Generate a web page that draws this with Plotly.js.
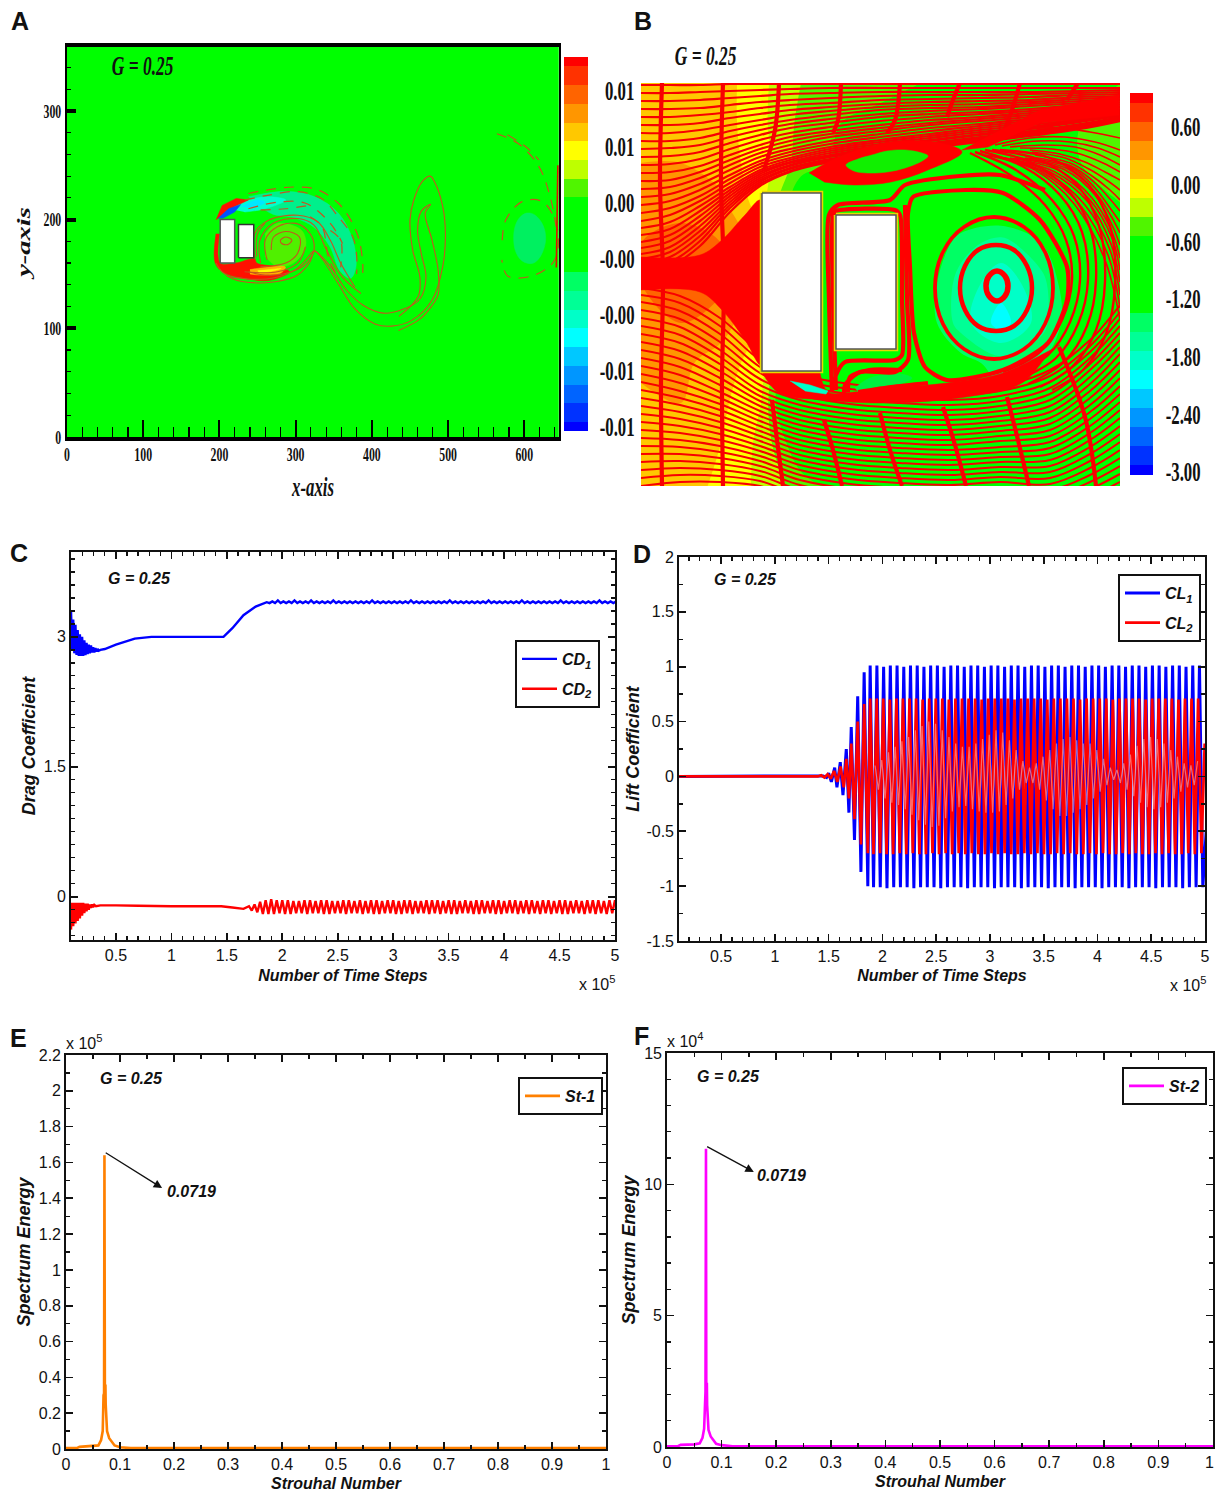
<!DOCTYPE html>
<html><head><meta charset="utf-8">
<script src="https://cdn.plot.ly/plotly-3.0.1.min.js"></script>
<style>html,body{margin:0;padding:0;background:#fff}</style></head>
<body><div id="chart" style="width:1215px;height:1493px"></div>
<script>
// ---------- shared colour levels (bottom to top of the contour bars)
const levelColors=['#0000ff','#0032ff','#0064ff','#0096ff','#00c8ff','#00ffff','#00ffc8','#00ff96','#00ff64','#00ff00','#00ff00','#00ff00','#00ff00','#50f500','#beff00','#ffff00','#ffc800','#ff9600','#ff6400','#ff3200','#ff0000'];
const levelIndex=[0,1,2,3,4,5,6,7,8,9,10,11,12,13,14,15,16,17,18,19,20];
const barALabels=['-0.01','-0.01','-0.00','-0.00','0.00','0.01','0.01'];
const barALabelPos=[0.2,3.2,6.2,9.2,12.2,15.2,18.2];
const barBLabels=['-3.00','-2.40','-1.80','-1.20','-0.60','0.00','0.60'];
const barBLabelPos=[0.15,3.15,6.2,9.2,12.2,15.2,18.2];

// ---------- panel A: vorticity regions and contour lines (x-axis, y-axis units)
const aCyl1X=[201,220,220,201,201], aCyl1Y=[160,160,200,200,160];
const aCyl2X=[225,245,245,225,225], aCyl2Y=[165,165,195.6,195.6,165];
const aTealX=[238,287,325,356,375,379,372,358,345,324,297,270,254], aTealY=[221,226,221,206,181,156,146,153,175,193,202,205,212];
const aAquaX=[212,238,265,287,260,233], aAquaY=[210,218,221,218,210,207];
const aCyanX=[228,249,260,244], aCyanY=[212,218,216,210];
const aRedTopX=[195.5,203.5,222,238,220,204], aRedTopY=[199.6,213,219.5,218,212,204];
const aBlueX=[198,212,228,220,204], aBlueY=[201,210,214,207,201];
const aRedLowX=[195.5,194.4,206,233,265,292,276,249,246,221,201,200], aRedLowY=[187,160,151,146,144,152,156.5,160,164,160,160,187];
const aOrangeX=[240,260,286.5,281,254,240], aOrangeY=[154,156,156.5,151,149,150];
const aYellowX=[250,265,281,265,252], aYellowY=[153,154,155,152,151];
const aCoreX=[260,276,308,313,297,276,260], aCoreY=[187,196.5,190,175,160,157,166];
const aEddyX=[628,626,620,612,603,594,588,586,588,594,603,612,620,626,628], aEddyY=[183,192,200,205,206,202,194,183,172,164,160,160,165,174,183];
const aSolidX=[
 [195.5,203.5,219.6,243.7,275.8,302.6,318.7,325,334.8,356,377.6,404,426,452.6,479,493,496.5,493,482,476.7,466,455,450,453.6,463,460.6,435.5],
 [210,243,275,300,316,324,343,367,389,415,439,463,471,465,460,465,477,470,479,487,487,478,462,435],
 [262.5,260,276,300.5,319,324,311,287,260,238],
 [254,253,270,302.6,324,340,361.5,385.6],
 [247,246,265,302.6,329,345.5,359,377.6],
 [280,287,295,289.6,281.6,280],
 [233,276,302.6,313],
 [254,287,302.6,305,287,271,268],
 [249,250,260]];
const aSolidY=[
 [160,152,145,142,143,149,161,171,164,141,118,104,102,107.5,126,157,187,212,235,240,235,218,199.6,172,147,129,111],
 [148,145,147,154,165,171,159,135,121,114,117,127,147,168,190,208,214,206,181,153,131,120,108,98],
 [163,181,193.4,196.5,187,172,158,150.5,149,152],
 [160,181,196.5,201,195,173,147,132],
 [164,187,199.6,204,198,181,160,138],
 [181,184,181,177,178,181],
 [152,152,160,175],
 [156.5,160,169,184,189,184,172],
 [166,187,196.5]];
const aDashX=[
 [238,259.6,297,329,356,372,383,388,388],[233,265,302.6,335,356,375,380,380],[238,276,313,345.5,361.5],[254,287,317],
 [345.5,359,359],[319,335,343,356],[564,592,619,635,643],[578,602,619],[571,576,597,624,643,640,613.5,578.5,570.5]];
const aDashY=[
 [224,227,230,227.5,215,200,182,160,151],[218,222.6,225.7,219,202.6,184,167,150],[210,216,215,196.5,178],[209,210,213],
 [190,181,156],[202.6,193,165,147],[279,270,249,218,187],[278,267,255],[181,200,216.5,216.5,193.4,163,149,148,163]];
const aEdgeX=[644,643,642], aEdgeY=[250,200,156];

// ---------- panel B: pressure grid, streamlines (flow-field units, y grows downward)
const pGridX=[641,681,721,761,801,841,881,921,961,1001,1041,1081,1121];
const pGridY=[83,123,163,203,243,283,323,363,403,443,486];
const pGrid=[
[.25,.25,.2,-.05,-.3,-.4,-.45,-.5,-.5,-.5,-.5,-.5,-.5],
[.25,.3,.2,-.05,-.35,-.5,-.55,-.55,-.55,-.55,-.55,-.5,-.45],
[.3,.3,.2,0,-.4,-.55,-.6,-.7,-.7,-.6,-.55,-.5,-.45],
[.4,.45,.35,0,-.7,-.7,-.8,-.9,-1,-.9,-.7,-.6,-.5],
[.5,.55,.5,.2,-.6,-.7,-.8,-1,-1.4,-1.6,-1.3,-.8,-.6],
[.5,.6,.55,.2,-.6,-.7,-.8,-1.1,-1.6,-1.8,-1.6,-.9,-.6],
[.5,.5,.4,.1,-.6,-.7,-.85,-1.1,-1.6,-2,-1.6,-1,-.65],
[.35,.35,.2,0,-1,-.9,-.8,-.9,-1.2,-1.4,-1.3,-1,-.75],
[.25,.3,.15,-.1,-1.2,-1.3,-1.3,-1.3,-1.2,-1.2,-1,-.9,-.8],
[.25,.25,.1,-.15,-.7,-1,-1,-1,-1,-1,-.9,-.8,-.75],
[.2,.2,.05,-.15,-.4,-.6,-.7,-.8,-.8,-.75,-.7,-.65,-.6]];
const upperStations=[641,670,700,730,760,790,830,880,930,980,1030,1080,1120];
const upperLines=[
[85,85,85,84,84,84,84,84,84,84,84,84,84],[93,93,92,91,90,89,88,88,88,88,88,88,88],
[101,101,100,98,96,94,93,92,92,92,92,91,90],[109,109,108,105,102,100,98,96,95,95,94,93,92],
[117,117,115,112,108,105,103,100,99,98,97,95,94],[125,125,123,118,114,110,107,104,102,101,100,97,96],
[133,133,130,125,120,115,111,107,105,104,102,99,97],[141,141,138,131,125,120,115,110,108,107,104,101,99],
[149,148,145,137,130,124,119,114,111,109,106,103,100],[157,156,152,143,135,128,123,117,114,112,109,105,102],
[165,164,159,149,140,133,127,121,117,114,111,107,104],[173,172,166,155,145,137,131,125,120,117,113,109,106],
[181,180,172,160,149,141,134,128,123,119,115,111,107],[189,187,178,165,153,145,137,131,125,121,117,112,109],
[197,194,184,170,157,149,141,134,128,124,119,114,110],[205,201,190,175,161,152,144,137,131,126,121,116,111],
[213,208,196,179,164,155,147,140,134,128,123,117,112],[221,215,201,183,167,158,149,142,136,130,125,119,113],
[228,222,206,187,170,160,151,144,138,132,127,120,114],[235,229,211,190,172,162,153,146,140,134,128,121,115],
[242,235,216,193,174,163,155,147,141,135,129,122,116],[248,241,221,196,176,165,156,149,143,137,131,124,117],
[254,247,226,199,178,166,157,150,144,138,132,125,118],[259,252,231,202,180,168,159,151,145,139,133,126,118],
[264,257,236,205,182,169,160,152,146,140,134,127,119],[268,262,241,208,184,171,161,153,147,141,135,128,120],
[272,266,246,212,186,172,162,154,148,142,136,129,121]];
const lowerStations=[641,680,720,760,800,850,900,950,1000,1050,1090,1120];
const lowerLines=[
[288,296,318,352,374,384,388,390,386,370,340,305],[295,303,326,360,380,389,393,395,391,376,346,312],
[302,311,334,367,385,394,398,400,396,382,352,319],[310,319,342,373,390,399,403,405,401,388,358,326],
[318,327,350,379,395,404,408,410,406,394,364,333],[326,335,357,385,400,409,413,415,411,400,370,340],
[334,343,364,391,405,414,418,420,416,406,377,347],[342,351,371,396,410,419,423,425,421,412,384,354],
[350,359,378,401,415,424,428,430,426,418,391,362],[358,367,385,406,420,429,433,435,431,424,398,370],
[366,375,392,411,425,434,438,440,436,430,405,378],[374,383,398,416,430,439,443,445,441,436,412,386],
[382,391,404,421,435,444,448,450,447,442,419,394],[390,398,410,426,440,449,453,455,452,448,426,402],
[398,405,416,431,445,454,458,460,457,454,433,410],[406,412,422,436,450,459,463,465,462,460,440,418],
[414,419,428,441,455,464,468,470,467,466,447,426],[422,426,434,446,460,469,473,475,472,472,454,434],
[430,433,440,451,465,474,478,480,477,478,461,442],[438,440,446,456,470,479,483,485,482,484,468,450],
[446,447,452,461,475,484,488,490,487,490,475,458],[454,454,458,466,480,489,493,495,492,496,482,466],
[462,461,464,471,485,494,498,500,497,502,489,474],[470,468,470,476,490,499,503,505,503,508,496,482],
[478,475,476,481,495,504,508,510,509,514,503,490],[486,482,482,486,500,509,513,515,515,520,510,498]];
const hugX=[[1003,1040,1062,1072,1066,1045,1010,970],[1010,1048,1070,1080,1074,1052,1016,975],[1018,1056,1078,1088,1082,1060,1022,980],[1028,1064,1087,1096,1090,1068,1030,985],[1040,1073,1096,1105,1099,1078,1040,992],[1052,1083,1106,1115,1110,1088,1050,1000]];
const hugY=[[372,352,320,280,240,205,175,153],[376,355,322,280,236,200,170,152],[380,358,324,280,232,195,166,151],[384,362,326,280,228,190,162,150],[387,366,330,282,226,186,160,150],[390,370,334,285,226,184,158,150]];
const fanX=[[1120,1105,1075,1035,985],[1120,1108,1080,1040,990],[1120,1110,1085,1045,995],[1120,1111,1088,1050,1000],[1120,1112,1090,1055,1005],[1120,1112,1092,1060,1010],[1120,1112,1095,1065,1015],[1120,1111,1095,1068,1020],[1120,1110,1095,1072,1025],[1120,1110,1094,1071,1030],[1120,1110,1092,1070,1035],[1120,1108,1089,1065,1032],[1120,1105,1085,1060,1030],[1120,1103,1080,1052,1020],[1120,1100,1075,1045,1010],[1120,1098,1070,1038,1002],[1120,1095,1065,1030,995],[1120,1090,1060,1025,985]];
const fanY=[[320,260,205,170,155],[308,255,205,171,155],[295,250,205,172,156],[282,244,202,172,157],[270,238,200,172,158],[258,232,198,171,158],[245,225,195,170,158],[233,216,192,169,158],[222,208,188,168,158],[211,199,182,166,157],[200,190,176,163,155],[190,181,169,158,152],[180,172,162,154,150],[172,163,154,149,148],[165,155,147,145,147],[157,148,142,141,146],[150,142,137,138,145],[138,132,128,130,145]];
const crossX=[[662,660,663,661,662],[723,721,724,722,723],[779,775,764],[841,838,833],[900,895,887],[960,953,947],[1020,1012,1003],[1078,1067],[772,777,783],[824,833,842],[880,890,902],[943,955,966],[1007,1018,1029],[1059,1085,1096]];
const crossY=[[83,180,280,380,486],[83,180,280,380,486],[83,130,170],[83,120,133],[83,120,133],[83,100,117],[83,110,133],[83,100],[400,440,486],[420,450,486],[413,450,486],[407,445,486],[397,440,486],[347,417,486]];
const bCoreX=[641,700,722,745,761,761,745,722,700,641], bCoreY=[257,255,240,215,200,365,340,310,292,290];
const bLidX=[809,839,891,940,962,928,891,854,824], bLidY=[173,157,142,143,152,170,182,185,182];
const bJetX=[1119,1040,962,988,1040,1119], bJetY=[95,110,150,147,123,115];
const bFloorX=[762,779,824,891,966,1022,1052,1060,1003,947,891,854,828,820], bFloorY=[372,393,400,403,397,383,350,345,373,383,388,392,392,373];
const bIsleX=[846,858,872,887,905,922,928,922,905,887,868,854,846], bIsleY=[165,159,155,151,150,153,156,161,168,172,173,171,165];
const bTealX=[790,810,828,826,805], bTealY=[381,385,391,394,391];
const bPatchX=[855,870,900,912,900,870,858], bPatchY=[388,378,374,378,384,388,392];
const bBandX=[
 [832,829,829,838,890,905,960,1000,1045],[836,833,833,836,895,900,902,902,895,845,836,833],[905,907,908,895,860,845,845,870],
 [848,850,869,902],[858,891,928],[913,966,1003,1040,1067,1067,1048,1003,947,925,914,910,908,913]];
const bBandY=[
 [392,300,215,205,200,185,176,175,190],[390,300,215,211,210,215,300,355,360,362,375,390],[205,300,360,372,372,385,395,395],
 [392,377,370,370],[392,387,383],[197,190,193,220,267,300,343,370,380,367,333,267,213,197]];
const ring1X=[1008,1005,997,989,986,989,997,1005,1008], ring1Y=[286,276,271,276,286,296,301,296,286];
const ring2X=[1032,1027,1014,996,978,965,960,965,978,996,1014,1027,1032], ring2Y=[288,266,250,245,250,266,288,310,326,331,326,310,288];
const ring3X=[1053,1045,1024,994,964,943,935,943,964,994,1024,1045,1053], ring3Y=[288,252,227,217,227,252,288,324,349,359,349,324,288];
const bBody1X=[762,821,821,762,762], bBody1Y=[193,193,371,371,193];
const bBody2X=[836,896,896,836,836], bBody2Y=[215,215,349,349,215];

// ---------- panel C: drag coefficient (x in units of 1e5 time steps)
const cd1StartX=[.095,.105,.115,.125,.135,.145,.155,.165,.175,.185,.195,.205,.215,.225,.235,.245,.255,.265,.275,.285,.295,.305,.315,.325,.335,.345,.36,.4,.5,.67,.82,1.47,1.55,1.65,1.76,1.86];
const cd1StartY=[3.3,2.85,3.2,2.81,3.14,2.79,3.08,2.78,3.03,2.78,3,2.78,2.96,2.79,2.93,2.8,2.91,2.81,2.9,2.82,2.88,2.82,2.87,2.83,2.86,2.84,2.85,2.86,2.91,2.98,3,3,3.1,3.25,3.35,3.4];
const cd1Ripple=[3.39,3.41,3.39,3.42,3.39,3.41,3.39,3.41,3.39,3.42,3.39,3.41,3.39,3.41,3.39,3.42,3.39,3.41,3.39,3.41,3.39,3.41,3.39,3.42,3.39,3.41,3.39,3.41,3.39,3.41,3.39,3.41,3.39,3.41,3.39,3.41,3.39,3.42,3.39,3.41,3.39,3.41,3.39,3.41,3.39,3.41,3.39,3.41,3.39,3.41,3.39,3.42,3.39,3.41,3.39,3.41,3.39,3.41,3.39,3.41,3.39,3.41,3.39,3.41,3.39,3.42,3.39,3.41,3.39,3.41,3.39,3.41,3.39,3.41,3.39,3.41,3.39,3.41,3.39,3.42,3.39,3.41,3.39,3.41,3.39,3.41,3.39,3.41,3.39,3.41,3.39,3.42,3.39,3.41,3.39,3.41,3.39,3.41,3.39,3.41,3.39,3.41,3.39,3.41,3.39,3.42,3.39,3.41,3.39,3.41,3.39,3.41,3.39,3.41,3.39,3.41,3.39,3.41,3.39,3.42,3.39,3.41,3.39,3.41,3.39,3.41];
const cd2StartX=[.095,.105,.115,.125,.135,.145,.155,.165,.175,.185,.195,.205,.215,.225,.235,.245,.255,.265,.275,.285,.295,.305,.32,.36,.5,.6,.7,1,1.45,1.55,1.65,1.7,1.725,1.75,1.775,1.8,1.825];
const cd2StartY=[-.38,-.07,-.34,-.07,-.31,-.07,-.28,-.07,-.25,-.07,-.22,-.07,-.19,-.08,-.17,-.08,-.15,-.09,-.13,-.09,-.12,-.095,-.11,-.1,-.1,-.1,-.105,-.11,-.11,-.125,-.14,-.11,-.16,-.09,-.18,-.06,-.2];
const cd2Ripple=[-.04,-.2,-.03,-.2,-.04,-.19,-.04,-.2,-.04,-.2,-.05,-.19,-.05,-.19,-.04,-.2,-.04,-.19,-.05,-.19,-.04,-.2,-.04,-.2,-.05,-.19,-.05,-.19,-.04,-.2,-.04,-.19,-.05,-.19,-.04,-.2,-.05,-.19,-.04,-.2,-.04,-.2,-.05,-.19,-.04,-.19,-.04,-.2,-.05,-.2,-.04,-.19,-.04,-.2,-.05,-.19,-.05,-.19,-.04,-.2,-.04,-.19,-.04,-.2,-.05,-.19,-.04,-.2,-.04,-.2,-.05,-.19,-.04,-.19,-.05,-.2,-.04,-.2,-.04,-.19,-.05,-.19,-.04,-.2,-.04,-.2,-.05,-.19,-.04,-.19,-.04,-.2,-.05,-.19,-.04,-.2,-.04,-.19,-.05,-.2,-.04,-.19,-.04,-.2,-.05,-.19,-.04,-.2,-.04,-.2,-.05,-.19,-.04,-.19,-.05,-.2,-.04,-.19,-.04,-.2,-.04,-.19,-.05,-.2,-.04,-.19,-.04,-.2];

// ---------- panel D: lift coefficient
const cl1StartX=[.1,1.42,1.45,1.48,1.5,1.525,1.556,1.577,1.608,1.633,1.664,1.688,1.71,1.74,1.77,1.8,1.83,1.864,1.886];
const cl1StartY=[0,0,.005,-.01,.03,-.05,.08,-.1,.13,-.17,.25,-.33,.45,-.58,.73,-.87,.95,-1,1.01];
const cl1Peaks=[-1.01,1.01,-1.01,1,-1.02,1.01,-1.01,1.01,-1.01,1,-1.01,1.01,-1.02,1.01,-1.01,1,-1.01,1.01,-1.01,1.01,-1.02,1,-1.01,1.01,-1.01,1.01,-1.01,1,-1.02,1.01,-1.01,1.01,-1.01,1,-1.01,1.01,-1.02,1.01,-1.01,1,-1.01,1.01,-1.01,1.01,-1.02,1,-1.01,1.01,-1.01,1.01,-1.01,1,-1.02,1.01,-1.01,1.01,-1.01,1,-1.01,1.01,-1.02,1.01,-1.01,1,-1.01,1.01,-1.01,1.01,-1.02,1,-1.01,1.01,-1.01,1.01,-1.01,1,-1.02,1.01,-1.01,1.01,-1.01,1,-1.01,1.01,-1.02,1.01,-1.01,1,-1.01,1.01,-1.01,1.01,-1.02,1,-1.01,1.01,-1.01,1.01,-1.01,-.5];
const cl2StartX=[.1,1.4,1.43,1.46,1.49,1.52,1.55,1.58,1.61,1.64,1.664,1.688,1.71,1.74,1.77,1.8,1.83,1.864,1.886];
const cl2StartY=[0,0,.01,-.01,.02,-.02,.05,-.05,.09,-.1,.16,-.2,.3,-.39,.5,-.62,.66,-.7,.71];
const cl2Peaks=[-.71,.71,-.7,.71,-.71,.7,-.71,.71,-.7,.71,-.71,.71,-.7,.71,-.71,.7,-.71,.71,-.7,.71,-.71,.71,-.7,.7,-.71,.71,-.7,.71,-.71,.71,-.7,.71,-.71,.7,-.71,.71,-.7,.71,-.71,.71,-.7,.71,-.71,.7,-.71,.71,-.7,.71,-.71,.71,-.7,.71,-.71,.7,-.71,.71,-.7,.71,-.71,.71,-.7,.71,-.71,.7,-.71,.71,-.7,.71,-.71,.71,-.7,.71,-.71,.7,-.71,.71,-.7,.71,-.71,.71,-.7,.71,-.71,.7,-.71,.71,-.7,.71,-.71,.71,-.7,.71,-.71,.7,-.71,.71,-.7,.71,-.71,.71,-.7,.3];
const cl2Inner=[.1,-.12,.15,-.2,.22,-.24,.27,-.26,.32,-.3,.36,-.35,.42,-.4,.46,-.44,.5,-.46,.48,-.45,.42,-.38,.36,-.32,.3,-.28,.27,-.27,.27,-.3,.3,-.32,.34,-.33,.38,-.33,.42,-.32,.4,-.26,.33,-.2,.24,-.12,.14,-.06,.08,-.06,.12,-.12,.18,-.22,.24,-.3,.3,-.36,.34,-.36,.36,-.33,.33,-.3,.3,-.26,.3,-.2,.24,-.14,.16,-.08,.08,-.03,.06,-.06,.12,-.12,.2,-.18,.28,-.24,.34,-.28,.36,-.3,.34,-.28,.3,-.24,.24,-.2,.18,-.14,.12,-.1,.1,-.08,.14];

// ---------- panels E and F: spectra
const st1X=[0,.02,.025,.05,.06,.065,.068,.0695,.0705,.0712,.072,.073,.0735,.0745,.076,.08,.085,.09,.1,.12,.2,.5,1];
const st1Y=[.005,.005,.012,.015,.02,.05,.1,.3,.31,1.64,.31,.36,.25,.15,.1,.06,.04,.02,.01,.005,.005,.005,.005];
const st2X=[0,.02,.025,.05,.06,.065,.068,.0695,.0705,.0714,.072,.073,.0735,.0745,.076,.08,.085,.09,.1,.12,.2,.5,1];
const st2Y=[.03,.03,.08,.1,.14,.35,.7,2.1,2.1,11.35,2.1,2.45,1.6,1,.65,.4,.25,.12,.07,.03,.03,.03,.03];

// ---------- layout helpers
const SERIF='Liberation Serif', SANS='Liberation Sans';
const dx=(a,b)=>[a/1215,b/1215], dy=(a,b)=>[1-b/1493,1-a/1493];
const px=v=>v/1215, py=v=>1-v/1493;
const stepped=[];levelColors.forEach((c,i)=>{stepped.push([i/21,c]);stepped.push([(i+1)/21,c]);});
const joinRows=(xs,rows)=>{const X=[],Y=[];rows.forEach((r,k)=>{r.forEach((v,i)=>{X.push(Array.isArray(xs[0])?xs[k][i]:xs[i]);Y.push(v);});X.push(null);Y.push(null);});return [X,Y];};
const sweep=(start,step,vals)=>vals.map((_,i)=>start+step*(i+1));
const fill=(x,y,color,xa,ya,extra)=>Object.assign({type:'scatter',mode:'lines',x,y,fill:'toself',fillcolor:color,line:{color:color,width:0.5},xaxis:xa,yaxis:ya,showlegend:false,hoverinfo:'skip'},extra||{});
const stroke=(x,y,color,w,xa,ya,extra)=>Object.assign({type:'scatter',mode:'lines',x,y,line:{color,width:w},xaxis:xa,yaxis:ya,showlegend:false,hoverinfo:'skip'},extra||{});
const splineLine=(color,w,dash)=>({color,width:w,shape:'spline',smoothing:1,dash:dash||'solid'});
const curve=(x,y,line,xa,ya)=>({type:'scatter',mode:'lines',x,y,line,xaxis:xa,yaxis:ya,showlegend:false,hoverinfo:'skip'});

const traces=[];
// --- Panel A
traces.push(fill([0,645,645,0,0],[0,0,360,360,0],'#00ff00','x','y'));
const sp=c=>({line:{color:c,width:.5,shape:'spline'}});
traces.push(fill(aEddyX,aEddyY,'#00f060','x','y',sp('#00f060')));
traces.push(fill(aTealX,aTealY,'#00f08c','x','y',sp('#00f08c')));
traces.push(fill(aAquaX,aAquaY,'#00ffd0','x','y',sp('#00ffd0')));
traces.push(fill(aCyanX,aCyanY,'#00e8ff','x','y',sp('#00e8ff')));
traces.push(fill(aRedTopX,aRedTopY,'#ff1000','x','y'));
traces.push(fill(aBlueX,aBlueY,'#0050ff','x','y'));
traces.push(fill(aCoreX,aCoreY,'#50f000','x','y',sp('#50f000')));
traces.push(fill(aRedLowX,aRedLowY,'#ff1000','x','y',sp('#ff1000')));
traces.push(fill(aOrangeX,aOrangeY,'#ffb000','x','y',sp('#ffb000')));
traces.push(fill(aYellowX,aYellowY,'#ffff00','x','y',sp('#ffff00')));
aSolidX.forEach((x,i)=>traces.push(curve(x,aSolidY[i],splineLine('#c4551e',1.1),'x','y')));
aDashX.forEach((x,i)=>traces.push(curve(x,aDashY[i],splineLine('#c4551e',1.2,'10px,8px'),'x','y')));
traces.push(stroke(aEdgeX,aEdgeY,'#e01000',1.6,'x','y'));
traces.push(fill(aCyl1X,aCyl1Y,'#ffffff','x','y',{line:{color:'#555',width:1.5}}));
traces.push(fill(aCyl2X,aCyl2Y,'#ffffff','x','y',{line:{color:'#333',width:1.5}}));
// --- Colour bars
traces.push({type:'heatmap',x:[0],y:levelIndex,z:levelIndex.map(v=>[v]),colorscale:stepped,zmin:-.5,zmax:20.5,showscale:false,xaxis:'x2',yaxis:'y2',hoverinfo:'skip'});
traces.push({type:'heatmap',x:[0],y:levelIndex,z:levelIndex.map(v=>[v]),colorscale:stepped,zmin:-.5,zmax:20.5,showscale:false,xaxis:'x4',yaxis:'y4',hoverinfo:'skip'});
// --- Panel B
traces.push({type:'contour',x:pGridX,y:pGridY,z:pGrid,colorscale:stepped,zmin:-3.1,zmax:1.1,autocontour:false,contours:{coloring:'fill',start:-3.1,end:1.1,size:.2,showlines:false},line:{width:0},showscale:false,xaxis:'x3',yaxis:'y3',hoverinfo:'skip'});
const [ux,uy]=joinRows(upperStations,upperLines);
traces.push(curve(ux,uy,splineLine('#f80000',2.2),'x3','y3'));
const [lx,ly]=joinRows(lowerStations,lowerLines);
traces.push(curve(lx,ly,splineLine('#f80000',2),'x3','y3'));
const [hx,hy]=joinRows(hugX,hugY);
traces.push(curve(hx,hy,splineLine('#f80000',2.4),'x3','y3'));
const [fx,fy]=joinRows(fanX,fanY);
traces.push(curve(fx,fy,splineLine('#f80000',1.6),'x3','y3'));
const [cx,cy]=joinRows(crossX,crossY);
traces.push(curve(cx,cy,splineLine('#f80000',4.2),'x3','y3'));
traces.push(fill(bCoreX,bCoreY,'#ff0000','x3','y3',sp('#ff0000')));
traces.push(fill(bJetX,bJetY,'#ff0000','x3','y3'));
traces.push(fill(bLidX,bLidY,'#ff0000','x3','y3',sp('#ff0000')));
traces.push(fill(bFloorX,bFloorY,'#ff0000','x3','y3',sp('#ff0000')));
traces.push(fill(bIsleX,bIsleY,'#10f000','x3','y3',sp('#10f000')));
traces.push(fill(bTealX,bTealY,'#00ffc8','x3','y3'));
traces.push(fill(bPatchX,bPatchY,'#00f040','x3','y3',sp('#00f040')));
bBandX.forEach((x,i)=>traces.push(curve(x,bBandY[i],{color:'#ff0000',width:4.2,shape:'spline',smoothing:.7},'x3','y3')));
traces.push(curve(ring1X,ring1Y,splineLine('#ff0000',5.5),'x3','y3'));
traces.push(curve(ring2X,ring2Y,splineLine('#ff0000',4.5),'x3','y3'));
traces.push(curve(ring3X,ring3Y,splineLine('#ff0000',3.8),'x3','y3'));
traces.push(stroke(bBody1X,bBody1Y,'#e8d800',4.5,'x3','y3'));
traces.push(stroke(bBody2X,bBody2Y,'#e8d800',4.5,'x3','y3'));
traces.push(fill(bBody1X,bBody1Y,'#ffffff','x3','y3',{line:{color:'#555',width:1.5}}));
traces.push(fill(bBody2X,bBody2Y,'#ffffff','x3','y3',{line:{color:'#555',width:1.5}}));
// --- Panel C
traces.push({type:'scatter',mode:'lines',name:'CD<sub>1</sub>',x:cd1StartX.concat(sweep(1.86,.025,cd1Ripple)),y:cd1StartY.concat(cd1Ripple),line:{color:'#0000ff',width:2.4},xaxis:'x5',yaxis:'y5',legend:'legend',legendgroup:'a',hoverinfo:'skip'});
traces.push({type:'scatter',mode:'lines',name:'CD<sub>2</sub>',x:cd2StartX.concat(sweep(1.825,.025,cd2Ripple)),y:cd2StartY.concat(cd2Ripple),line:{color:'#ff0000',width:2.4},xaxis:'x5',yaxis:'y5',legend:'legend',legendgroup:'b',hoverinfo:'skip'});
// --- Panel D
traces.push({type:'scatter',mode:'lines',name:'CL<sub>1</sub>',x:cl1StartX.concat(sweep(1.886,.03125,cl1Peaks)),y:cl1StartY.concat(cl1Peaks),line:{color:'#0000ff',width:3},xaxis:'x6',yaxis:'y6',legend:'legend2',legendgroup:'c',hoverinfo:'skip'});
traces.push({type:'scatter',mode:'lines',name:'CL<sub>2</sub>',x:cl2StartX.concat(sweep(1.886,.0305,cl2Peaks)),y:cl2StartY.concat(cl2Peaks),line:{color:'#ff0000',width:2.7},xaxis:'x6',yaxis:'y6',legend:'legend2',legendgroup:'d',hoverinfo:'skip'});
traces.push(stroke(sweep(1.9,.03125,cl2Inner),cl2Inner,'rgba(255,190,190,0.55)',1.2,'x6','y6'));
// --- Panels E, F
traces.push({type:'scatter',mode:'lines',name:'St-1',x:st1X,y:st1Y,line:{color:'#ff8000',width:2.6},xaxis:'x7',yaxis:'y7',legend:'legend3',hoverinfo:'skip'});
traces.push({type:'scatter',mode:'lines',name:'St-2',x:st2X,y:st2Y,line:{color:'#ff00ff',width:2.6},xaxis:'x8',yaxis:'y8',legend:'legend4',hoverinfo:'skip'});

// --- Axes
const sansTick={family:SANS,size:16,color:'#111'};
const sansTitle={family:SANS,size:16,color:'#111',weight:'bold',style:'italic'};
const sansYTitle={family:SANS,size:18,color:'#111',weight:'bold',style:'italic'};
const serifTick={family:SERIF,size:19,color:'#111',weight:'bold'};
const plainAxis=(domain,anchor,range)=>({domain,anchor,range,visible:false,fixedrange:true});
const plotAxis=(domain,anchor,range,dtick,minor,title,standoff,font,extra)=>Object.assign({domain,anchor,range,showgrid:false,zeroline:false,showline:true,linecolor:'#111',linewidth:1.8,mirror:'ticks',ticks:'inside',ticklen:7,tickwidth:1.6,tickcolor:'#111',tick0:0,dtick,tickfont:sansTick,minor:{dtick:minor,tick0:0,ticks:'inside',ticklen:4,tickwidth:1.3,tickcolor:'#111',showgrid:false},title:{text:title,font,standoff},fixedrange:true},extra||{});
const boxLegend=(xp,yp,gap,order)=>({x:px(xp),y:py(yp),xanchor:'left',yanchor:'top',bgcolor:'#fff',bordercolor:'#111',borderwidth:2,font:sansTitle,itemwidth:35,tracegroupgap:gap,traceorder:order,itemclick:false,itemdoubleclick:false});

const note=(text,xp,yp,font)=>({text,x:px(xp),y:py(yp),xref:'paper',yref:'paper',showarrow:false,xanchor:'center',yanchor:'middle',font});
const letterFont={family:SANS,size:25,color:'#111',weight:'bold'};
const gSerif={family:SERIF,size:28,color:'#111',weight:'bold',style:'italic'};
const gSans={family:SANS,size:16,color:'#111',weight:'bold',style:'italic'};
const barFont={family:SERIF,size:27,color:'#111',weight:'bold'};
const plainSans={family:SANS,size:16,color:'#111'};
const annotations=[
 note('A',20,21,letterFont),note('B',643,21,letterFont),note('C',19,553,letterFont),note('D',642,554,letterFont),note('E',18,1038,letterFont),note('F',642,1036,letterFont),
 note('G = 0.25',142,66,gSerif),note('G = 0.25',705,55,gSerif),
 note('G = 0.25',139,578,gSans),note('G = 0.25',745,579,gSans),note('G = 0.25',131,1078,gSans),note('G = 0.25',728,1076,gSans),
 note('x 10<sup>5</sup>',597,983,plainSans),note('x 10<sup>5</sup>',1188,984,plainSans),note('x 10<sup>5</sup>',84,1042,plainSans),note('x 10<sup>4</sup>',685,1040,plainSans),
 note('0.0719',191,1191,sansTitle),note('0.0719',781,1175,sansTitle),note('1',1209,1462,plainSans)];
barALabels.forEach((t,i)=>annotations.push({text:t,xref:'paper',yref:'y2',x:px(t[0]==='-'?617:619.5),xanchor:'center',y:barALabelPos[i],showarrow:false,font:barFont}));
barBLabels.forEach((t,i)=>annotations.push({text:t,xref:'paper',yref:'y4',x:px(t[0]==='-'?1183:1185.5),xanchor:'center',y:barBLabelPos[i],showarrow:false,font:barFont}));
annotations.push({text:' ',xref:'x7',yref:'y7',axref:'x7',ayref:'y7',x:.178,y:1.457,ax:.068,ay:1.665,showarrow:true,arrowhead:2,arrowsize:1.3,arrowwidth:1.3,arrowcolor:'#111'});
annotations.push({text:' ',xref:'x8',yref:'y8',axref:'x8',ayref:'y8',x:.159,y:10.47,ax:.068,ay:11.5,showarrow:true,arrowhead:2,arrowsize:1.3,arrowwidth:1.3,arrowcolor:'#111'});

const layout={width:1215,height:1493,margin:{l:0,r:0,t:0,b:0},paper_bgcolor:'#fff',plot_bgcolor:'rgba(0,0,0,0)',font:{family:SANS},
 xaxis:{domain:dx(67,559),anchor:'y',range:[0,645.5],tick0:0,dtick:100,showgrid:false,zeroline:false,showline:true,linecolor:'#000',linewidth:4,mirror:true,ticks:'inside',ticklen:17,tickwidth:2,tickcolor:'#000',tickfont:serifTick,ticklabelstandoff:-3,minor:{dtick:20,tick0:0,ticks:'inside',ticklen:10,tickwidth:1.2,tickcolor:'#000'},title:{text:'x-axis',font:{family:SERIF,size:27,color:'#111',weight:'bold',style:'italic'},standoff:14},fixedrange:true},
 yaxis:{domain:dy(47,437),anchor:'x',range:[0,358.8],tick0:0,dtick:100,showgrid:false,zeroline:false,showline:true,linecolor:'#000',linewidth:2,mirror:true,ticks:'inside',ticklen:9,tickwidth:4,tickcolor:'#000',tickfont:serifTick,minor:{dtick:20,tick0:0,ticks:'inside',ticklen:4,tickwidth:1.2,tickcolor:'#000'},title:{text:'y-axis',font:{family:SERIF,size:19,color:'#111',weight:'bold',style:'italic'},standoff:2},fixedrange:true},
 xaxis2:plainAxis(dx(564,588),'y2',[-.5,.5]),yaxis2:plainAxis(dy(57,431),'x2',[0,20]),
 xaxis3:plainAxis(dx(641,1120),'y3',[641,1120]),yaxis3:plainAxis(dy(83,486),'x3',[486,83]),
 xaxis4:plainAxis(dx(1130,1153),'y4',[-.5,.5]),yaxis4:plainAxis(dy(93,475),'x4',[0,20]),
 xaxis5:plotAxis(dx(71,615),'y5',[.095,5],.5,.1,'Number of Time Steps',7,sansTitle),
 yaxis5:plotAxis(dy(552,940),'x5',[-.5,3.98],1.5,.15,'Drag Coefficient',3,sansYTitle),
 xaxis6:plotAxis(dx(679,1205),'y6',[.108,5],.5,.1,'Number of Time Steps',6,sansTitle),
 yaxis6:plotAxis(dy(557,941),'x6',[-1.5,2],.5,.25,'Lift Coefficient',2,sansYTitle,{tickmode:'array',tickvals:[-1.5,-1,-.5,0,.5,1,1.5,2],ticktext:['-1.5','-1','-0.5','0','0.5','1','1.5','2']}),
 xaxis7:plotAxis(dx(66,606),'y7',[0,1],.1,.05,'Strouhal Number',6,sansTitle),
 yaxis7:plotAxis(dy(1055,1449),'x7',[0,2.2],.2,.1,'Spectrum Energy',3,sansYTitle),
 xaxis8:plotAxis(dx(667,1213),'y8',[0,1],.1,.05,'Strouhal Number',6,sansTitle),
 yaxis8:plotAxis(dy(1053,1447),'x8',[0,15],5,1,'Spectrum Energy',4,sansYTitle),
 legend:boxLegend(515,640,6,'grouped'),legend2:boxLegend(1118,574,6,'grouped'),legend3:boxLegend(518,1077,0,'normal'),legend4:boxLegend(1122,1067,0,'normal'),
 annotations};

Plotly.newPlot('chart',traces,layout,{displayModeBar:false,staticPlot:true}).then(()=>{
 // narrow the serif labels of panels A and B, as they appear in the figure
 document.querySelectorAll('#chart svg text').forEach(el=>{
  if(!(el.style.fontFamily||'').includes('Serif'))return;
  const isY=el.classList.contains('ytitle');
  const w=el.getComputedTextLength();
  if(w<=0)return;
  el.setAttribute('textLength',(w*(isY?1.5:0.62)).toFixed(1));
  el.setAttribute('lengthAdjust','spacingAndGlyphs');
  if(isY)el.setAttribute('transform','translate(5,0) '+(el.getAttribute('transform')||''));
 });
});
</script></body></html>
